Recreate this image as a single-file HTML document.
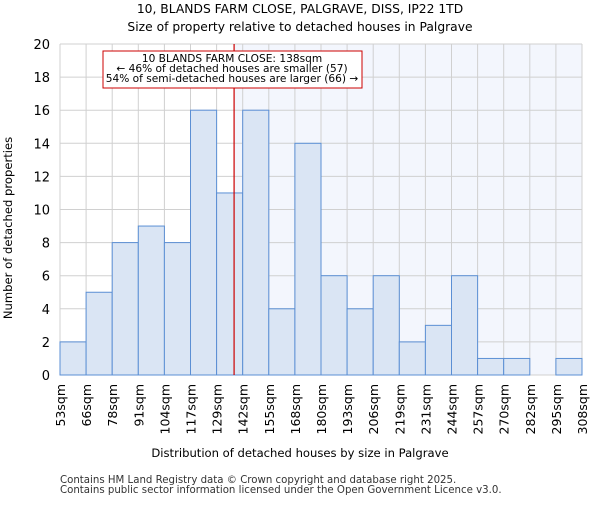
<!DOCTYPE html>
<html><head><meta charset="utf-8"><style>body{margin:0;background:#fff}svg{font-family:"DejaVu Sans","Liberation Sans",sans-serif}</style></head>
<body>
<svg id="c" width="600" height="500">
<text x="300" y="13" text-anchor="middle" font-size="12.3">10, BLANDS FARM CLOSE, PALGRAVE, DISS, IP22 1TD</text>
<text x="300" y="31" text-anchor="middle" font-size="12.3">Size of property relative to detached houses in Palgrave</text>
<g id="plot"></g>
<text x="300" y="457" text-anchor="middle" font-size="11.6">Distribution of detached houses by size in Palgrave</text>
<text transform="translate(12,228) rotate(-90)" text-anchor="middle" font-size="11.6">Number of detached properties</text>
<text x="60" y="483" font-size="10.2" fill="#333">Contains HM Land Registry data © Crown copyright and database right 2025.</text>
<text x="60" y="493" font-size="10.2" fill="#333">Contains public sector information licensed under the Open Government Licence v3.0.</text>
</svg>
<script>
const categories=["53sqm","66sqm","78sqm","91sqm","104sqm","117sqm","129sqm","142sqm","155sqm","168sqm","180sqm","193sqm","206sqm","219sqm","231sqm","244sqm","257sqm","270sqm","282sqm","295sqm","308sqm"];
const counts=[2,5,8,9,8,16,11,16,4,14,6,4,6,2,3,6,1,1,0,1];
const yTicks=[0,2,4,6,8,10,12,14,16,18,20];
const propertyBinPos=[6.67];
const L=60,R=582,T=44,B=375,N=counts.length,bw=(R-L)/N;
const x=i=>L+i*bw, y=v=>B-(B-T)*v/20;
const g=document.getElementById('plot'),ns="http://www.w3.org/2000/svg";
function mk(t,a,p){const e=document.createElementNS(ns,t);for(const k in a)e.setAttribute(k,a[k]);(p||g).appendChild(e);return e;}
const px=x(propertyBinPos[0]);
let e=mk('rect',{x:px,y:T,width:R-px,height:B-T,fill:'#f3f6fd'});


for(let i=0;i<=N;i++){e=mk('line',{x1:x(i),x2:x(i),y1:T,y2:B,stroke:'#d0d0d0'});

}
yTicks.forEach(v=>{e=mk('line',{x1:L,x2:R,y1:y(v),y2:y(v),stroke:'#d0d0d0'});


e=mk('text',{x:L-10,y:y(v)+5,'text-anchor':'end','font-size':13});e.textContent=v;

});
counts.forEach((c,i)=>{if(!c)return;e=mk('rect',{x:x(i),y:y(c),width:bw,height:B-y(c),fill:'#dae5f4',stroke:'#5b8fd4','stroke-width':1});

});
categories.forEach((c,i)=>{e=mk('text',{transform:`translate(${x(i)+5},384) rotate(-90)`,'text-anchor':'end','font-size':12.5});e.textContent=c;

});
e=mk('line',{x1:px,x2:px,y1:T,y2:B,stroke:'#cc0000','stroke-width':1.2});


e=mk('rect',{x:103,y:51,width:259,height:37,fill:'#fff',stroke:'#cc0000'});


["10 BLANDS FARM CLOSE: 138sqm","← 46% of detached houses are smaller (57)","54% of semi-detached houses are larger (66) →"].forEach((t,k)=>{e=mk('text',{x:232,y:62+k*10,'text-anchor':'middle','font-size':10.6});e.textContent=t;

});
</script>
</body></html>
